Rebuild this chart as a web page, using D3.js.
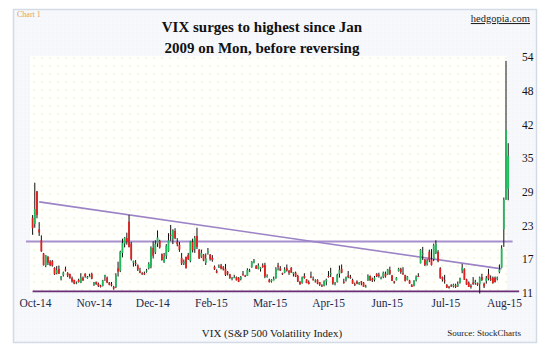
<!DOCTYPE html>
<html><head><meta charset="utf-8">
<script src="https://cdn.jsdelivr.net/npm/d3@7"></script>
<style>html,body{margin:0;padding:0;background:#fff;}svg{display:block;}</style>
</head><body>
<svg id="c" width="550" height="352"></svg>
<script>
// ---- data (VIX daily candles, Oct 14 2014 .. Aug 25 2015) ----
const opens = [
24.7,23.6,29.5,22.6,20.6,18.2,16.0,17.6,16.7,16.8,15.6,14.6,15.4,13.6,
14.3,15.3,14.6,14.5,13.7,13.4,12.8,13.4,12.9,13.8,14.5,13.8,13.9,14.5,12.5,13.0,12.7,12.4,12.3,
14.0,13.8,12.9,12.6,12.1,12.1,15.5,15.0,18.3,20.0,21.0,24.0,20.0,16.5,16.5,16.0,15.0,14.6,14.6,14.9,15.5,15.8,
19.2,18.4,20.0,20.5,18.1,16.6,17.8,18.6,21.6,20.9,22.3,20.3,19.8,17.4,16.4,17.6,17.9,16.8,20.3,19.0,
21.4,18.9,17.6,18.0,16.5,18.3,18.0,17.4,15.8,15.0,15.7,16.0,15.7,15.4,14.8,14.4,13.7,13.7,13.9,
13.8,13.5,14.4,14.2,14.1,15.0,15.7,16.6,15.9,15.4,15.4,16.0,16.1,14.0,13.4,13.1,13.3,13.7,16.0,15.5,14.6,14.7,
15.5,15.0,15.6,14.5,14.7,14.1,13.0,12.8,14.1,13.5,13.0,14.0,13.5,13.2,13.4,13.0,12.4,12.3,13.1,14.1,14.4,
13.9,12.8,13.0,14.5,15.4,13.0,13.4,14.2,13.9,13.4,12.6,13.1,12.6,13.1,12.9,12.1,13.3,14.1,13.6,13.4,
14.5,14.3,13.6,13.9,14.5,14.4,15.2,14.2,13.1,13.3,15.0,15.4,14.6,14.3,13.4,13.3,12.5,12.3,13.3,14.1,16.4,18.1,
17.1,16.3,18.5,17.1,17.2,18.3,18.5,15.5,13.9,13.3,12.5,12.1,12.4,12.2,12.4,12.2,12.9,15.1,15.4,13.5,12.9,12.3,
12.9,12.9,12.8,12.6,13.9,12.7,13.2,14.4,13.6,13.8,13.8,13.6,14.8,15.6,22.6,28.0,30.0];
const highs = [
25.2,31.1,29.6,23.9,21.5,18.3,17.9,17.7,17.0,17.0,15.7,15.9,16.0,14.1,
14.9,15.8,14.8,14.5,14.0,13.4,13.1,13.6,14.6,14.0,14.6,14.1,14.5,14.7,13.0,13.1,12.9,12.5,13.4,
14.3,14.0,13.0,13.0,12.3,14.6,16.7,18.7,20.9,21.2,22.0,25.2,20.3,16.9,17.0,16.2,15.6,14.8,14.9,15.4,16.6,19.5,
20.4,20.6,22.4,20.7,18.2,18.3,19.9,21.9,23.4,22.6,22.8,21.0,20.3,18.3,17.1,17.6,18.3,20.5,20.9,21.4,
22.9,19.0,18.9,18.1,18.2,19.2,18.1,17.9,16.0,15.3,16.2,16.3,15.9,16.3,15.0,14.5,13.9,14.3,14.0,
13.9,14.1,15.0,14.3,15.5,15.4,16.8,17.2,16.1,16.4,15.7,16.4,16.5,14.4,13.6,13.5,14.0,15.7,16.5,15.9,14.7,15.7,
16.2,15.2,15.7,14.8,14.9,14.3,13.2,14.0,14.6,13.5,13.3,14.9,14.0,13.5,13.5,13.0,12.6,13.3,13.6,15.0,15.6,
13.9,13.0,14.5,16.0,16.2,13.6,14.0,15.0,14.3,13.6,12.9,13.3,13.0,13.2,13.0,12.5,14.4,14.2,13.8,14.1,
14.6,14.7,14.0,14.9,14.9,15.4,15.8,14.3,13.2,13.9,15.6,15.6,15.7,14.3,14.1,13.4,12.6,13.3,14.2,14.6,19.0,19.4,
17.2,17.2,18.9,19.0,20.0,20.6,18.8,15.7,14.0,14.3,12.6,12.3,12.6,12.7,12.7,13.1,13.8,16.3,15.5,13.6,13.1,12.6,
13.9,13.4,12.9,14.0,14.5,12.9,14.1,15.4,14.2,14.0,14.0,14.0,16.2,19.7,28.4,53.3,38.3];
const lows = [
21.6,22.9,24.6,21.4,18.5,16.0,15.7,16.1,15.9,15.8,14.3,14.4,14.5,13.3,
14.0,14.9,13.9,13.6,12.9,12.6,12.6,12.9,12.8,13.2,13.8,13.6,13.9,13.5,12.3,12.5,12.1,12.0,12.2,
13.2,12.8,12.4,12.2,11.6,11.9,14.0,14.8,17.5,19.3,19.8,19.3,16.9,15.8,15.9,15.0,14.6,14.3,14.3,14.7,15.3,15.5,
17.3,18.1,19.4,19.1,16.9,16.5,17.2,18.5,20.5,19.9,20.8,19.5,18.5,16.1,16.1,15.5,17.0,16.6,18.4,18.3,
19.0,17.2,17.4,16.8,16.1,18.0,16.9,16.7,15.2,14.6,15.6,15.3,15.1,14.1,14.2,13.6,13.3,13.7,13.3,
13.0,13.3,14.2,13.9,14.1,14.8,15.6,16.4,15.4,15.3,14.9,15.6,13.7,13.8,12.9,12.9,13.3,13.6,15.1,15.0,14.3,14.6,
14.9,14.3,14.7,14.0,13.9,13.0,12.5,12.7,13.6,12.8,12.6,13.7,13.3,12.9,12.6,12.3,12.1,12.2,12.4,13.8,13.9,
12.5,12.4,12.9,13.8,14.6,12.7,13.1,13.7,13.6,12.7,12.3,12.6,12.5,12.4,12.1,12.0,13.2,13.2,13.0,13.1,
13.9,13.8,13.5,13.7,13.8,14.3,14.3,13.2,12.7,13.3,14.9,14.5,14.3,13.1,13.3,12.7,12.1,12.2,13.1,13.9,16.4,17.0,
15.9,16.0,16.6,16.0,16.8,18.1,16.6,13.6,13.1,12.7,11.9,11.8,12.1,12.0,11.9,12.1,12.7,14.6,13.4,12.5,12.1,11.8,
12.5,12.5,12.3,10.9,13.2,11.9,12.7,13.3,13.2,12.7,12.9,13.3,14.6,15.6,19.4,28.0,27.9];
const closes = [
22.8,26.3,25.2,22.0,18.6,16.1,17.9,16.5,16.1,16.0,14.4,15.2,14.5,14.0,
14.7,15.1,14.2,13.7,13.1,12.7,12.9,13.0,13.8,13.3,14.0,13.9,14.1,13.6,12.9,12.6,12.3,12.1,13.3,
14.3,12.9,12.5,12.4,11.8,14.2,14.9,18.5,20.1,21.1,20.4,19.4,17.2,16.8,16.3,15.3,14.7,14.4,14.5,15.1,16.3,19.2,
17.8,19.9,21.1,19.3,17.0,17.6,19.6,20.6,21.5,22.4,21.0,19.9,18.9,16.4,16.7,15.5,17.2,20.4,18.8,21.0,
19.4,17.3,18.3,16.9,17.3,18.6,17.2,17.0,15.3,14.7,15.8,15.5,15.3,14.3,14.6,13.7,13.8,13.9,13.3,
13.0,13.9,14.2,14.0,15.2,15.1,16.7,16.9,15.4,16.0,15.6,15.7,14.0,14.1,13.0,13.4,13.6,15.4,15.8,15.1,14.5,15.3,
15.1,14.7,14.7,14.8,14.0,13.1,12.6,13.9,13.7,12.8,12.6,13.9,13.3,13.3,12.7,12.5,12.3,13.1,13.4,13.9,14.6,
12.7,12.9,14.3,15.2,14.7,12.9,13.9,13.9,13.8,12.7,12.4,12.7,12.9,12.9,12.1,12.2,14.1,13.3,13.3,13.8,
14.0,14.2,13.7,14.7,14.0,15.3,14.5,13.2,12.9,13.8,15.4,14.8,14.5,13.2,14.0,12.7,12.1,13.3,14.0,14.0,18.9,18.2,
16.1,16.8,17.0,16.1,19.7,20.0,16.8,13.7,13.4,13.2,12.0,12.0,12.3,12.5,12.1,12.6,13.7,15.6,13.4,12.5,12.1,12.1,
12.6,13.0,12.5,13.8,13.4,12.2,13.7,13.6,13.5,12.8,13.0,13.8,15.3,19.1,28.0,40.7,36.0];

const xTickLabels = ["Oct-14","Nov-14","Dec-14","Feb-15","Mar-15","Apr-15","Jun-15","Jul-15","Aug-15"];
const yTickLabels = ["11","17","23","29","35","42","48","54"];
// reference lines: [startIndex, startValue, endIndex, endValue]
const resistanceLine = [-3, 20.4, 219, 20.4];
const supportLine = [0, 11.3, 222, 11.3];
const trendLine = [3, 27.6, 214, 15.4];

// ---- drawing ----
const svg = d3.select("#c");
const defs = svg.append("defs");
const pat = defs.append("pattern").attr("id","dots").attr("width",8).attr("height",8).attr("patternUnits","userSpaceOnUse");
pat.append("rect").attr("width",8).attr("height",8).attr("fill","#fffffc");
pat.append("circle").attr("cx",2).attr("cy",2).attr("r",0.8).attr("fill","#f1ecc4");
const pat2 = defs.append("pattern").attr("id","hatch").attr("width",4).attr("height",4).attr("patternUnits","userSpaceOnUse");
pat2.append("rect").attr("width",4).attr("height",4).attr("fill","#f6f8fb");
pat2.append("circle").attr("cx",1).attr("cy",1).attr("r",0.6).attr("fill","#eceff4");

// panel
svg.append("rect").attr("x",13.5).attr("y",9.5).attr("width",523).attr("height",333)
  .attr("fill","url(#hatch)").attr("stroke","#d3dbe6").attr("stroke-width",1.5);
// plot area
svg.append("rect").attr("x",30).attr("y",56).attr("width",477).attr("height",236).attr("fill","url(#dots)");

const n = closes.length;
const idx = d3.range(n);
const x = d3.scaleBand().domain(idx).range([31.7, 509.1]).paddingInner(0.18);
const xc = i => x(i) + x.bandwidth()/2;
const step = x.step();
const xLin = i => xc(0) + i*step;  // for reference line extents by index
const y = d3.scaleLinear().domain([11, 54]).range([293, 57]);

// x labels
const xl = d3.scalePoint().domain(xTickLabels).range([35, 504]);
const xAxis = d3.axisBottom(xl).tickSize(0).tickPadding(0);
const gx = svg.append("g").attr("transform","translate(0,300)").call(xAxis);
gx.select(".domain").remove();
gx.selectAll("text").attr("font-family","Liberation Serif").attr("font-size",11.5).attr("fill","#1f2a4a").attr("dy","0.6em");

// y labels
const yVals = d3.range(8).map(k => 11 + k*43/7);
const yAxis = d3.axisRight(y).tickValues(yVals).tickSize(0).tickPadding(0).tickFormat((d,i)=>yTickLabels[i]);
const gy = svg.append("g").attr("transform","translate(522,0)").call(yAxis);
gy.select(".domain").remove();
gy.selectAll("text").attr("font-family","Liberation Serif").attr("font-size",11.5).attr("fill","#111");

// reference lines
function refLine(L, color, w){
  svg.append("line").attr("x1",xLin(L[0])).attr("y1",y(L[1])).attr("x2",xLin(L[2])).attr("y2",y(L[3]))
    .attr("stroke",color).attr("stroke-width",w);
}
refLine(resistanceLine, "#a88fcf", 2);
refLine(trendLine, "#9b83c6", 1.6);
refLine(supportLine, "#6b2c78", 1.6);

// candles
const g = svg.append("g");
g.selectAll("line.w").data(idx).join("line")
  .attr("x1", xc).attr("x2", xc)
  .attr("y1", i => y(highs[i])).attr("y2", i => y(lows[i]))
  .attr("stroke","#111").attr("stroke-width",1);
g.selectAll("rect.b").data(idx).join("rect")
  .attr("x", i => x(i)).attr("width", x.bandwidth())
  .attr("y", i => y(Math.max(opens[i],closes[i])))
  .attr("height", i => Math.max(1, Math.abs(y(opens[i]) - y(closes[i]))))
  .attr("fill", i => closes[i] >= opens[i] ? "#1fba5c" : "#e3201f");

// texts
svg.append("text").attr("x",17).attr("y",17).attr("font-family","Liberation Serif").attr("font-size",8)
  .attr("fill","#e2a065").text("Chart 1");
const t = svg.append("text").attr("text-anchor","middle").attr("font-family","Liberation Serif")
  .attr("font-weight","bold").attr("font-size",15).attr("fill","#111");
t.append("tspan").attr("x",262).attr("y",32).text("VIX  surges to highest since Jan");
t.append("tspan").attr("x",262).attr("y",53).text("2009 on Mon,  before  reversing");
svg.append("text").attr("x",530).attr("y",22).attr("text-anchor","end").attr("font-family","Liberation Serif")
  .attr("font-size",10.5).attr("fill","#222").attr("text-decoration","underline").text("hedgopia.com");
svg.append("text").attr("x",272).attr("y",337).attr("text-anchor","middle").attr("font-family","Liberation Serif")
  .attr("font-size",11).attr("fill","#222").text("VIX  (S&P 500 Volatility Index)");
svg.append("text").attr("x",521).attr("y",336).attr("text-anchor","end").attr("font-family","Liberation Serif")
  .attr("font-size",9).attr("fill","#222").text("Source: StockCharts");
</script>
</body></html>
